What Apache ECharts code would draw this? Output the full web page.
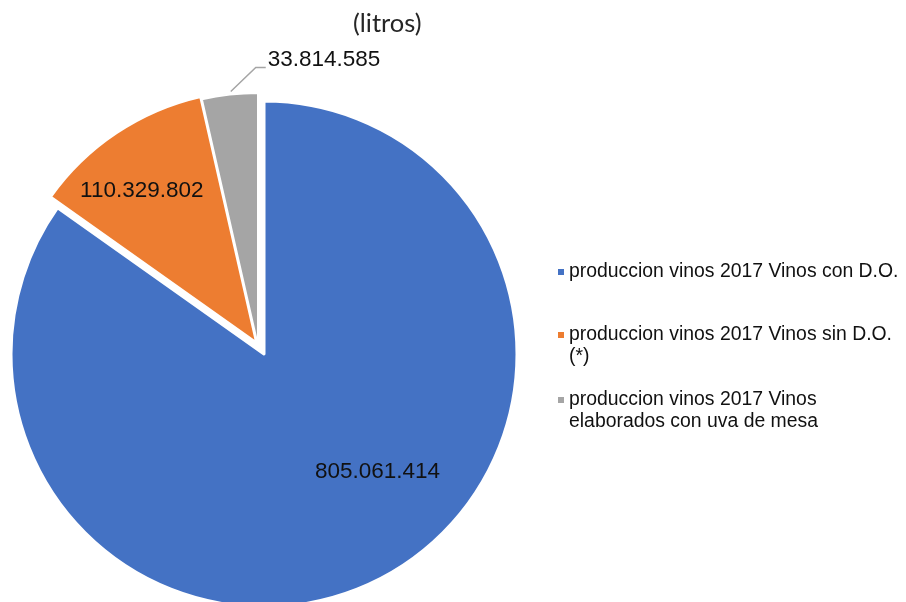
<!DOCTYPE html>
<html><head><meta charset="utf-8">
<script src="https://cdn.jsdelivr.net/npm/echarts@6/dist/echarts.min.js"></script>
<style>html,body{margin:0;padding:0;background:#fff}#c{width:906px;height:602px}</style>
</head><body><div id="c"></div>
<script>
const categories = ['produccion vinos 2017 Vinos con D.O.', 'produccion vinos 2017 Vinos sin D.O. (*)', 'produccion vinos 2017 Vinos elaborados con uva de mesa'];
const legendLabels = ['produccion vinos 2017 Vinos con D.O.', '\nproduccion vinos 2017 Vinos sin D.O.\n(*)', '\nproduccion vinos 2017 Vinos\nelaborados con uva de mesa'];
const values = [805061414, 110329802, 33814585];
const colors = ['#4472C4', '#ED7D31', '#A5A5A5'];
const titleText = '(litros)';

const FONT = '"Liberation Sans", Arial, sans-serif';
const NONE = 'rgba(0,0,0,0)';
function fmt(v) { return String(v).replace(/\B(?=(\d{3})+(?!\d))/g, '.'); }

const chart = echarts.init(document.getElementById('c'), null, {renderer: 'canvas'});
const legendTops = [261, 302, 367];
const legends = categories.map((name, i) => ({
  orient: 'vertical', left: 558, top: legendTops[i], padding: 0,
  itemWidth: 6, itemHeight: 6, icon: 'rect', itemGap: 0,
  selectedMode: false,
  data: [{name, itemStyle: {color: colors[i], borderWidth: 0, borderColor: NONE}}],
  formatter: n => legendLabels[categories.indexOf(n)],
  textStyle: {fontFamily: FONT, fontSize: 19.4, lineHeight: 22, color: '#111'}
}));

const labelStyle = {fontFamily: FONT, fontSize: 22.5, color: '#111', formatter: p => fmt(p.value)};

chart.setOption({
  animation: false,
  title: {text: titleText, left: 348, top: 6, textStyle: {fontFamily: 'Lato, "Open Sans", sans-serif', fontWeight: 'normal', fontSize: 25.5, color: '#262626'}},
  legend: legends,
  series: [{
    // large slice and the exploded medium slice
    type: 'pie',
    center: [264, 354],
    radius: 253,
    startAngle: 90,
    clockwise: true,
    selectedMode: 'multiple',
    selectedOffset: 13,
    avoidLabelOverlap: false,
    emphasis: {disabled: true},
    label: labelStyle,
    labelLayout: function (p) {
      if (p.dataIndex === 0) return {dx: 54, dy: 3};
      if (p.dataIndex === 1) return {dx: -43, dy: -45};
      return {};
    },
    data: categories.map((name, i) => ({
      name, value: values[i], selected: i === 1,
      itemStyle: i < 2 ? {color: colors[i], borderColor: '#fff', borderWidth: 3} : {color: NONE, borderWidth: 0},
      label: {show: i < 2, position: 'inside'},
      labelLine: {show: false}
    }))
  }, {
    // small slice, pulled out, with its outside label
    type: 'pie',
    center: [258, 346],
    radius: 253,
    startAngle: 90,
    clockwise: true,
    silent: true,
    selectedMode: false,
    avoidLabelOverlap: false,
    emphasis: {disabled: true},
    label: labelStyle,
    labelLine: {lineStyle: {color: '#A5A5A5', width: 1.5}},
    labelLayout: function (p) {
      if (p.dataIndex !== 2 || !p.labelLinePoints) return {};
      const a = p.labelLinePoints[0];
      return {
        x: a[0] + 38, y: a[1] - 35, align: 'left', verticalAlign: 'middle',
        labelLinePoints: [[a[0] + 1, a[1] - 3], [a[0] + 26, a[1] - 27], [a[0] + 36, a[1] - 27]]
      };
    },
    data: categories.map((name, i) => ({
      name, value: values[i],
      itemStyle: i === 2 ? {color: colors[i], borderColor: '#fff', borderWidth: 2} : {color: NONE, borderWidth: 0},
      label: {show: i === 2, position: 'outside'},
      labelLine: {show: i === 2}
    }))
  }]
});
</script></body></html>
